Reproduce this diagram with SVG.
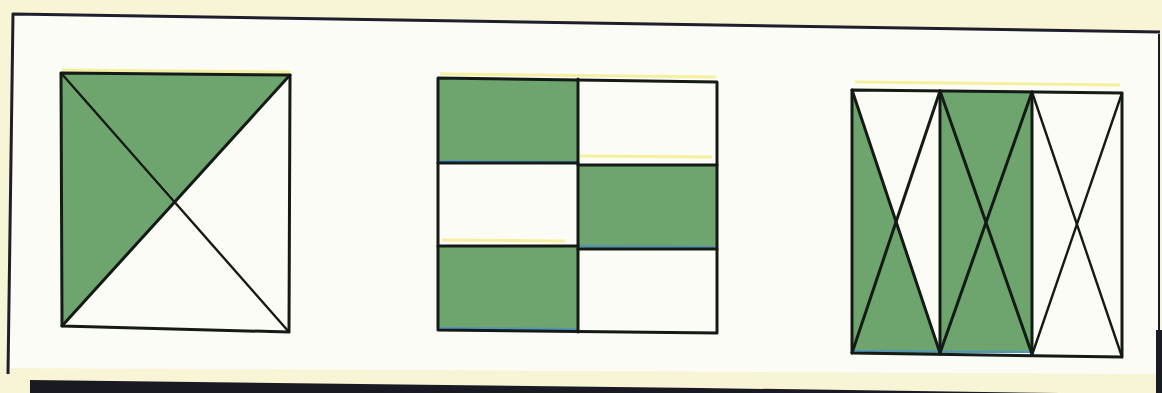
<svg xmlns="http://www.w3.org/2000/svg" width="1162" height="393" viewBox="0 0 1162 393">
  <style>
    .paper { fill: #fcfcf7; }
    .edge { fill: none; stroke: #1e1f2a; stroke-width: 3; stroke-linejoin: round; }
    .green { fill: #6ea46d; }
    .line { fill: none; stroke: #141a16; stroke-width: 3; stroke-linecap: round; stroke-linejoin: round; }
    .thin { stroke-width: 2.4; }
    .tint { fill: none; stroke: #f2ec8a; stroke-width: 3; opacity: 0.8; }
    .blue { fill: none; stroke: #4b8fd0; stroke-width: 2; opacity: 0.8; }
  </style>
  <!-- background scan -->
  <rect x="0" y="0" width="1162" height="393" fill="#f8f5d6"/>
  <polygon class="paper" points="13,14 1160,31 1158,374 8,368"/>
  <polyline class="edge" points="8,374 13,14 1160,32"/>
  <polygon points="30,380 700,388 1060,393 30,393" fill="#1a1a22"/>
  <line x1="1159" y1="34" x2="1159" y2="393" stroke="#1a1a22" stroke-width="2"/>
  <polygon points="1156,330 1162,330 1162,393 1156,393" fill="#1a1a22"/>

  <!-- square 1 -->
  <g id="square1">
    <polygon class="green" points="61,73 290,75 175,200"/>
    <polygon class="green" points="61,73 62,326 175,200"/>
    <line class="tint" x1="62" y1="70" x2="290" y2="72"/>
    <polygon class="line" points="61,73 290,75 289,332 62,326"/>
    <line class="line" x1="62" y1="326" x2="290" y2="75"/>
    <line class="line thin" x1="61" y1="73" x2="289" y2="332"/>
  </g>

  <!-- square 2 -->
  <g id="square2">
    <rect class="green" x="439" y="79" width="139" height="83"/>
    <rect class="green" x="578" y="165" width="139" height="83"/>
    <rect class="green" x="439" y="246" width="139" height="84"/>
    <line class="tint" x1="440" y1="74" x2="716" y2="77"/>
    <line class="tint" x1="580" y1="156" x2="712" y2="157"/>
    <line class="tint" x1="442" y1="240" x2="565" y2="241"/>
    <line class="blue" x1="440" y1="161" x2="576" y2="162"/>
    <line class="blue" x1="580" y1="246" x2="714" y2="247"/>
    <line class="blue" x1="440" y1="328" x2="578" y2="329"/>
    <polygon class="line" points="438,78 717,82 717,333 438,330"/>
    <line class="line" x1="578" y1="79" x2="578" y2="332"/>
    <line class="line" x1="438" y1="163" x2="578" y2="163"/>
    <line class="line" x1="578" y1="165" x2="717" y2="165"/>
    <line class="line" x1="438" y1="246" x2="578" y2="246"/>
    <line class="line" x1="578" y1="249" x2="717" y2="249"/>
  </g>

  <!-- square 3 -->
  <g id="square3">
    <polygon class="green" points="852,90 852,353 940,353"/>
    <rect class="green" x="940" y="91" width="92" height="262"/>
    <line class="tint" x1="855" y1="82" x2="1120" y2="85"/>
    <line class="blue" x1="852" y1="351" x2="1030" y2="352"/>
    <polygon class="line" points="852,90 1122,93 1122,357 852,353"/>
    <line class="line" x1="940" y1="91" x2="940" y2="354"/>
    <line class="line" x1="1032" y1="92" x2="1032" y2="355"/>
    <line class="line" x1="852" y1="90" x2="940" y2="353"/>
    <line class="line" x1="852" y1="353" x2="940" y2="91"/>
    <line class="line" x1="940" y1="91" x2="1032" y2="354"/>
    <line class="line" x1="940" y1="353" x2="1032" y2="92"/>
    <line class="line thin" x1="1032" y1="92" x2="1122" y2="357"/>
    <line class="line thin" x1="1032" y1="355" x2="1122" y2="93"/>
  </g>
</svg>
